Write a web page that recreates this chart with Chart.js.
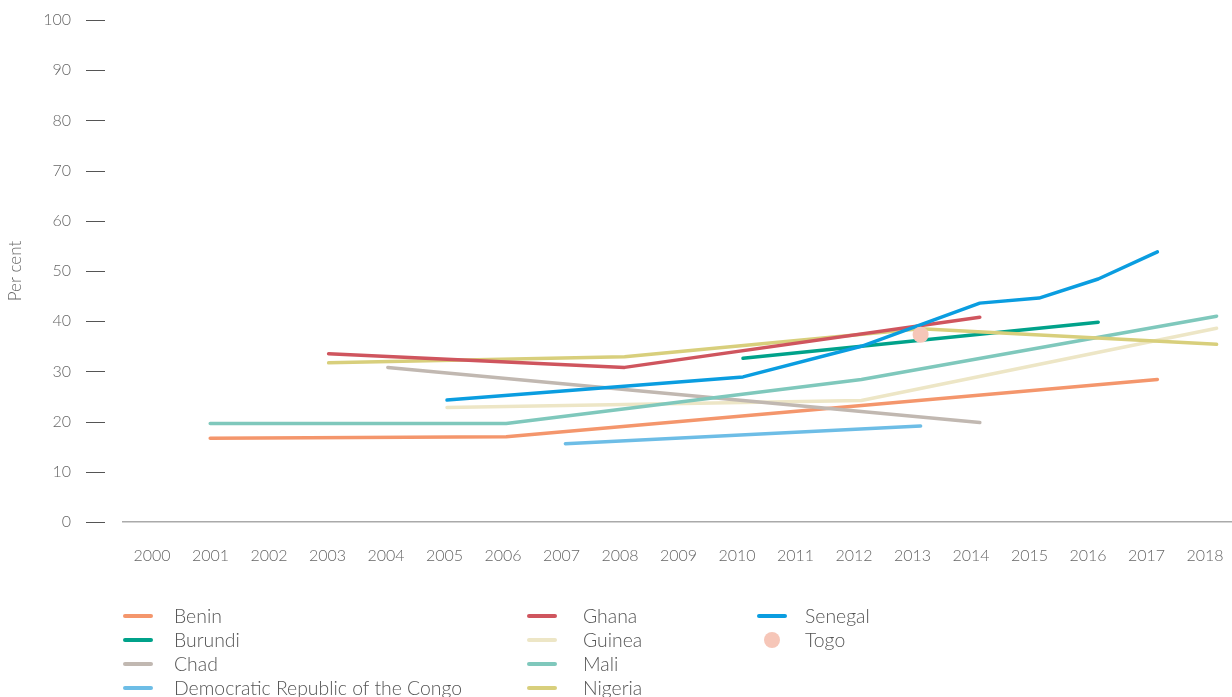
<!DOCTYPE html>
<html>
<head>
<meta charset="utf-8">
<script src="https://cdn.jsdelivr.net/npm/chart.js@4.4.1/dist/chart.umd.min.js"></script>
<style>
  body { margin: 0; background: #fff; font-family: Lato, sans-serif; overflow: hidden; }
  #wrap { position: absolute; left: 0; top: 0; width: 1232px; height: 580px; }
  #legend { position: absolute; left: 0; top: 0; width: 1232px; height: 697px; pointer-events: none; overflow: hidden; }
  .item { position: absolute; color: #555; font-size: 19.4px; font-weight: 300; line-height: 22px; white-space: nowrap; }
  .mark { position: absolute; }
</style>
</head>
<body>
<div id="wrap"><canvas id="lineGraph"></canvas></div>
<div id="legend"></div>
<script>
const years = [2000, 2001, 2002, 2003, 2004, 2005, 2006, 2007, 2008, 2009,
  2010, 2011, 2012, 2013, 2014, 2015, 2016, 2017, 2018];

// values per year, null where the source has no point
const benin   = [null, 16.7, null, null, null, null, 17.0, null, null, null, null, null, null, null, null, null, null, 28.4, null];
const burundi = [null, null, null, null, null, null, null, null, null, null, 32.6, null, null, null, null, null, 39.8, null, null];
const chad    = [null, null, null, null, 30.8, null, null, null, null, null, null, null, null, null, 19.8, null, null, null, null];
const drc     = [null, null, null, null, null, null, null, 15.6, null, null, null, null, null, 19.1, null, null, null, null, null];
const ghana   = [null, null, null, 33.5, null, null, null, null, 30.8, null, null, null, null, null, 40.8, null, null, null, null];
const guinea  = [null, null, null, null, null, 22.8, null, null, null, null, null, null, 24.2, null, null, null, null, null, 38.6];
const mali    = [null, 19.6, null, null, null, null, 19.6, null, null, null, null, null, 28.4, null, null, null, null, null, 41.0];
const nigeria = [null, null, null, 31.7, null, null, null, null, 32.9, null, null, null, null, 38.5, null, null, null, null, 35.4];
const senegal = [null, null, null, null, null, 24.3, null, null, null, null, 28.9, null, 35.0, null, 43.6, 44.6, 48.4, 53.8, null];
const togo    = [null, null, null, null, null, null, null, null, null, null, null, null, null, 37.3, null, null, null, null, null];

const yTicks = [0, 10, 20, 30, 40, 50, 60, 70, 80, 90, 100];

const series = [
  { label: 'Benin', values: benin, color: '#f4966c', col: 0, row: 0, order: 9 },
  { label: 'Burundi', values: burundi, color: '#00a28a', col: 0, row: 1, order: 4 },
  { label: 'Chad', values: chad, color: '#c1b8b1', col: 0, row: 2, order: 7 },
  { label: 'Democratic Republic of the Congo', values: drc, color: '#6dbde6', col: 0, row: 3, order: 10 },
  { label: 'Ghana', values: ghana, color: '#cf555e', col: 1, row: 0, order: 2 },
  { label: 'Guinea', values: guinea, color: '#ede6c6', col: 1, row: 1, order: 8 },
  { label: 'Mali', values: mali, color: '#7fc8bc', col: 1, row: 2, order: 6 },
  { label: 'Nigeria', values: nigeria, color: '#d8cf7c', col: 1, row: 3, order: 3 },
  { label: 'Senegal', values: senegal, color: '#0a9de0', col: 2, row: 0, order: 1 },
  { label: 'Togo', values: togo, color: '#f6c6b8', col: 2, row: 1, order: 0, dot: true }
];

function toPoints(values) {
  return years.map(function (yr, i) {
    return { x: yr, y: values[i] };
  });
}

const datasets = series.map(function (s) {
  return {
    label: s.label,
    data: toPoints(s.values),
    xAxisID: 'xData',
    borderColor: s.color,
    backgroundColor: s.color,
    borderWidth: 3.5,
    borderCapStyle: 'round',
    borderJoinStyle: 'round',
    pointRadius: s.dot ? 8 : 0,
    pointBorderWidth: 0,
    showLine: !s.dot,
    spanGaps: true,
    tension: 0,
    clip: false,
    order: s.order
  };
});

// the short dashes next to the y labels
const yDashes = {
  id: 'yDashes',
  afterDraw: function (chart) {
    const y = chart.scales.y;
    const ctx = chart.ctx;
    ctx.save();
    ctx.strokeStyle = '#555';
    ctx.lineWidth = 1;
    y.ticks.forEach(function (t) {
      const py = Math.round(y.getPixelForValue(t.value)) + 0.5;
      ctx.beginPath();
      ctx.moveTo(y.right - 37, py);
      ctx.lineTo(y.right - 18, py);
      ctx.stroke();
    });
    ctx.restore();
  }
};

const tickFont = { family: 'Lato', size: 16, weight: 300 };

const chart = new Chart(document.querySelector('#lineGraph'), {
  type: 'line',
  data: { datasets: datasets },
  options: {
    responsive: true,
    maintainAspectRatio: false,
    animation: false,
    layout: { autoPadding: false, padding: { top: 20, right: 0, left: 0, bottom: 0 } },
    plugins: {
      legend: { display: false },
      tooltip: { enabled: false }
    },
    scales: {
      // year labels as printed in the original (slightly tighter than the data)
      x: {
        type: 'linear',
        min: 1999.504,
        max: 2018.46,
        afterBuildTicks: function (scale) {
          scale.ticks = years.map(function (yr) { return { value: yr }; });
        },
        afterFit: function (scale) {
          scale.height = 58;
          scale.paddingLeft = 0;
          scale.paddingRight = 0;
        },
        grid: { display: false, drawTicks: false },
        border: { display: true, color: '#aaa', width: 1.5 },
        ticks: {
          color: '#666',
          font: tickFont,
          padding: 24,
          maxRotation: 0,
          autoSkip: false,
          callback: function (v) { return String(v); }
        }
      },
      // axis the lines are plotted on
      xData: {
        type: 'linear',
        position: 'bottom',
        display: false,
        min: 1999.527,
        max: 2018.26
      },
      y: {
        min: 0,
        max: 100,
        afterBuildTicks: function (scale) {
          scale.ticks = yTicks.map(function (v) { return { value: v }; });
        },
        afterFit: function (scale) {
          scale.width = 123;
          scale.paddingTop = 0;
          scale.paddingBottom = 0;
        },
        grid: { display: false, drawTicks: false },
        border: { display: false },
        title: {
          display: true,
          text: 'Per cent',
          color: '#666',
          font: { family: 'Lato', size: 17, weight: 300 },
          padding: { top: 5, bottom: 0 }
        },
        ticks: {
          color: '#666',
          font: tickFont,
          padding: 52
        }
      }
    }
  },
  plugins: [yDashes]
});

// legend laid out in columns, like the original
const colMark = [123, 527, 757];
const colText = [174, 583, 805];
const legend = document.querySelector('#legend');
series.forEach(function (s) {
  const cy = 616 + s.row * 24;
  const mark = document.createElement('div');
  mark.className = 'mark';
  if (s.dot) {
    mark.style.cssText = 'left:' + (colMark[s.col] + 7) + 'px;top:' + (cy - 8) + 'px;width:16px;height:16px;border-radius:8px;background:' + s.color;
  } else {
    mark.style.cssText = 'left:' + colMark[s.col] + 'px;top:' + (cy - 2) + 'px;width:30px;height:4px;border-radius:2px;background:' + s.color;
  }
  legend.appendChild(mark);
  const txt = document.createElement('div');
  txt.className = 'item';
  txt.style.left = colText[s.col] + 'px';
  txt.style.top = (cy - 11) + 'px';
  txt.textContent = s.label;
  legend.appendChild(txt);
});
</script>
</body>
</html>
